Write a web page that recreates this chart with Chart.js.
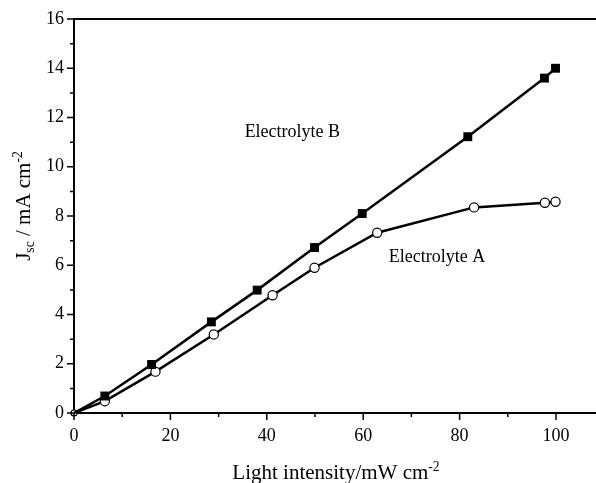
<!DOCTYPE html>
<html>
<head>
<meta charset="utf-8">
<script src="https://cdn.jsdelivr.net/npm/chart.js@4.4.1/dist/chart.umd.min.js"></script>
<style>
  html, body { margin: 0; padding: 0; background: #fff; }
  #wrap { width: 596px; height: 483px; }
</style>
</head>
<body>
<div id="wrap"><canvas id="jsc-chart" width="596" height="483"></canvas></div>
<script>
/* global Chart */
// light intensity (mW cm-2) and Jsc (mA cm-2)
const intensityB = [0, 6.4, 16.1, 28.5, 38.0, 49.9, 59.8, 81.7, 97.6, 99.9];
const jscB       = [0, 0.69, 1.97, 3.70, 4.99, 6.72, 8.10, 11.22, 13.6, 14.0];
const intensityA = [0, 6.4, 16.9, 29.0, 41.2, 49.9, 62.9, 83.0, 97.7, 99.9];
const jscA       = [0, 0.48, 1.68, 3.19, 4.78, 5.90, 7.32, 8.35, 8.54, 8.58];

const xTicks = [0, 20, 40, 60, 80, 100];
const xMinorTicks = [10, 30, 50, 70, 90];
const yTicks = [0, 2, 4, 6, 8, 10, 12, 14, 16];
const yMinorTicks = [1, 3, 5, 7, 9, 11, 13, 15];

const seriesLabels = ['Electrolyte B', 'Electrolyte A'];
// where the series names sit, in data units
const labelPos = [[35.4, 11.4], [65.3, 6.33]];

const FONT = '"Liberation Serif", "Times New Roman", serif';

function toPoints(xs, ys) {
    return xs.map((x, i) => ({ x: x, y: ys[i] }));
}

// draws text made of pieces, some raised or lowered and smaller
function drawRich(ctx, parts, size, cx, cy) {
    let total = 0;
    parts.forEach(p => {
        ctx.font = `${p.small ? size * 0.65 : size}px ${FONT}`;
        p.w = ctx.measureText(p.t).width;
        total += p.w;
    });
    let x = cx - total / 2;
    ctx.textAlign = 'left';
    ctx.textBaseline = 'alphabetic';
    parts.forEach(p => {
        ctx.font = `${p.small ? size * 0.65 : size}px ${FONT}`;
        ctx.fillText(p.t, x, cy + (p.dy || 0) * size);
        x += p.w;
    });
}

const decorPlugin = {
    id: 'decor',
    afterDraw(chart) {
        const ctx = chart.ctx;
        const xs = chart.scales.x;
        const ys = chart.scales.y;
        const area = chart.chartArea;
        ctx.save();
        ctx.strokeStyle = '#000';
        ctx.fillStyle = '#000';

        // top frame line
        ctx.lineWidth = 2;
        ctx.beginPath();
        ctx.moveTo(area.left - 1, area.top);
        ctx.lineTo(area.right, area.top);
        ctx.stroke();

        // tick marks, outward
        ctx.lineWidth = 1.5;
        ctx.beginPath();
        xTicks.forEach(v => {
            const px = xs.getPixelForValue(v);
            ctx.moveTo(px, area.bottom);
            ctx.lineTo(px, area.bottom + 7);
        });
        xMinorTicks.forEach(v => {
            const px = xs.getPixelForValue(v);
            ctx.moveTo(px, area.bottom);
            ctx.lineTo(px, area.bottom + 4);
        });
        yTicks.forEach(v => {
            const py = ys.getPixelForValue(v);
            ctx.moveTo(area.left, py);
            ctx.lineTo(area.left - 7, py);
        });
        yMinorTicks.forEach(v => {
            const py = ys.getPixelForValue(v);
            ctx.moveTo(area.left, py);
            ctx.lineTo(area.left - 4, py);
        });
        ctx.stroke();

        // series names
        ctx.font = `18px ${FONT}`;
        ctx.textAlign = 'left';
        ctx.textBaseline = 'middle';
        seriesLabels.forEach((s, i) => {
            ctx.fillText(s, xs.getPixelForValue(labelPos[i][0]), ys.getPixelForValue(labelPos[i][1]));
        });

        // x title
        drawRich(ctx, [
            { t: 'Light intensity/mW cm' },
            { t: '-2', small: true, dy: -0.4 }
        ], 21, 336, 479);

        // y title, rotated
        ctx.save();
        ctx.translate(30, 206);
        ctx.rotate(-Math.PI / 2);
        drawRich(ctx, [
            { t: 'J' },
            { t: 'sc', small: true, dy: 0.2 },
            { t: ' / mA cm' },
            { t: '-2', small: true, dy: -0.4 }
        ], 21, 0, 0);
        ctx.restore();

        ctx.restore();
    }
};

new Chart(document.getElementById('jsc-chart'), {
    type: 'line',
    data: {
        datasets: [
            {
                label: seriesLabels[0],
                data: toPoints(intensityB, jscB),
                borderColor: '#000',
                borderWidth: 2.5,
                backgroundColor: '#000',
                pointStyle: 'rect',
                pointRadius: ctx => (ctx.dataIndex === 0 ? 0 : 6.3),
                pointBorderWidth: 0,
                tension: 0
            },
            {
                label: seriesLabels[1],
                data: toPoints(intensityA, jscA),
                borderColor: '#000',
                borderWidth: 2.5,
                pointBackgroundColor: '#fff',
                pointBorderColor: '#000',
                pointStyle: 'circle',
                pointRadius: ctx => (ctx.dataIndex === 0 ? 3 : 4.6),
                pointBorderWidth: 1.2,
                tension: 0
            }
        ]
    },
    options: {
        responsive: false,
        animation: false,
        clip: false,
        layout: { autoPadding: false, padding: { left: 0, right: 0, top: 19, bottom: 0 } },
        plugins: {
            legend: { display: false },
            title: { display: false },
            tooltip: { enabled: false }
        },
        scales: {
            x: {
                type: 'linear',
                min: 0,
                max: 108.3,
                afterBuildTicks: s => { s.ticks = xTicks.map(v => ({ value: v })); },
                afterFit: s => { s.height = 70; s.paddingRight = 0; s.paddingLeft = 0; },
                grid: { display: true, drawOnChartArea: false, drawTicks: false },
                border: { display: true, color: '#000', width: 2 },
                ticks: {
                    color: '#000',
                    padding: 12,
                    maxRotation: 0,
                    font: { family: FONT, size: 18 }
                }
            },
            y: {
                type: 'linear',
                min: 0,
                max: 16,
                afterBuildTicks: s => { s.ticks = yTicks.map(v => ({ value: v })); },
                afterFit: s => { s.width = 74; s.paddingTop = 0; s.paddingBottom = 0; },
                grid: { display: true, drawOnChartArea: false, drawTicks: false },
                border: { display: true, color: '#000', width: 2 },
                ticks: {
                    color: '#000',
                    padding: 10,
                    font: { family: FONT, size: 18 }
                }
            }
        }
    },
    plugins: [decorPlugin]
});
</script>
</body>
</html>
